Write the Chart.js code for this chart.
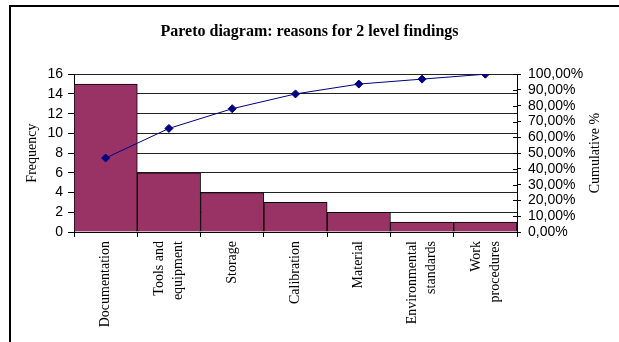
<!DOCTYPE html>
<html>
<head>
<meta charset="utf-8">
<script src="https://cdn.jsdelivr.net/npm/chart.js@4"></script>
<style>
  html, body { margin: 0; padding: 0; background: #ffffff; }
  canvas { display: block; }
</style>
</head>
<body>
<canvas id="pareto" width="619" height="342"></canvas>
<script>
// Reasons for level-2 findings, sorted by frequency
const categories = [
  'Documentation',
  ['Tools and', 'equipment'],
  'Storage',
  'Calibration',
  'Material',
  ['Environmental', 'standards'],
  ['Work', 'procedures']
];
const frequency = [15, 6, 4, 3, 2, 1, 1];
const cumulativePct = [46.88, 65.63, 78.13, 87.5, 93.75, 96.88, 100];

const SERIF = '"Liberation Serif", "Times New Roman", serif';
const SANS = '"Liberation Sans", Arial, sans-serif';

// Page frame, vertical category labels centred on their bars,
// right-hand axis title and ticks crossing the right axis line
const decorations = {
  id: 'decorations',
  beforeDraw(chart) {
    const ctx = chart.ctx;
    ctx.save();
    ctx.fillStyle = '#ffffff';
    ctx.fillRect(0, 0, chart.width, chart.height);
    ctx.strokeStyle = '#000000';
    ctx.lineWidth = 2;
    ctx.beginPath();
    ctx.moveTo(10, chart.height + 2);
    ctx.lineTo(10, 6);
    ctx.lineTo(chart.width + 2, 6);
    ctx.stroke();
    ctx.restore();
  },
  afterDraw(chart) {
    const ctx = chart.ctx;
    const xs = chart.scales.x;
    const y1 = chart.scales.y1;
    const area = chart.chartArea;
    ctx.save();
    ctx.strokeStyle = '#000000';
    ctx.lineWidth = 1;
    y1.ticks.forEach(t => {
      const py = Math.round(y1.getPixelForValue(t.value)) + 0.5;
      ctx.beginPath();
      ctx.moveTo(area.right - 4, py);
      ctx.lineTo(area.right, py);
      ctx.stroke();
    });

    ctx.fillStyle = '#000000';
    ctx.font = '14px ' + SERIF;
    ctx.textAlign = 'right';
    ctx.textBaseline = 'middle';
    const lineGap = 19;
    const labelTop = area.bottom + 9;
    chart.data.labels.forEach((lab, i) => {
      const lines = Array.isArray(lab) ? lab : [lab];
      const cx = xs.getPixelForValue(i);
      lines.forEach((txt, j) => {
        const lx = cx + (j - (lines.length - 1) / 2) * lineGap;
        ctx.save();
        ctx.translate(lx, labelTop);
        ctx.rotate(-Math.PI / 2);
        ctx.fillText(txt, 0, 0);
        ctx.restore();
      });
    });

    ctx.translate(595, (area.top + area.bottom) / 2);
    ctx.rotate(-Math.PI / 2);
    ctx.textAlign = 'center';
    ctx.fillText('Cumulative %', 0, 0);
    ctx.restore();
  }
};

new Chart(document.getElementById('pareto'), {
  type: 'bar',
  data: {
    labels: categories,
    datasets: [
      {
        type: 'line',
        label: 'Cumulative %',
        data: cumulativePct,
        yAxisID: 'y1',
        borderColor: '#000080',
        backgroundColor: '#000080',
        borderWidth: 1,
        pointStyle: 'rectRot',
        pointRadius: 4,
        pointBackgroundColor: '#000080',
        pointBorderColor: '#000080',
        tension: 0,
        order: 0
      },
      {
        type: 'bar',
        label: 'Frequency',
        data: frequency,
        yAxisID: 'y',
        backgroundColor: '#993366',
        borderColor: '#000000',
        borderWidth: 1,
        barPercentage: 1,
        categoryPercentage: 1,
        order: 1
      }
    ]
  },
  options: {
    responsive: false,
    animation: false,
    devicePixelRatio: 1,
    layout: { padding: 0 },
    plugins: {
      legend: { display: false },
      tooltip: { enabled: false },
      title: {
        display: true,
        text: 'Pareto diagram: reasons for 2 level findings',
        color: '#000000',
        font: { family: SERIF, size: 16, weight: 'bold', lineHeight: 1.2 },
        padding: { top: 22, bottom: 33 }
      }
    },
    scales: {
      x: {
        offset: true,
        grid: {
          offset: true,
          drawOnChartArea: false,
          drawTicks: true,
          tickLength: 5,
          color: '#000000'
        },
        border: { display: true, color: '#000000' },
        ticks: { display: false, autoSkip: false },
        afterFit(scale) { scale.height = 110; }
      },
      y: {
        position: 'left',
        min: 0,
        max: 16,
        ticks: {
          stepSize: 2,
          autoSkip: false,
          padding: 5,
          color: '#000000',
          font: { family: SANS, size: 14 }
        },
        grid: {
          color: '#222222',
          drawTicks: true,
          tickLength: 6,
          tickColor: '#000000'
        },
        border: { display: true, color: '#000000' },
        title: {
          display: true,
          text: 'Frequency',
          color: '#000000',
          font: { family: SERIF, size: 14, lineHeight: 1.2 },
          padding: { top: 24, bottom: 0 }
        },
        afterFit(scale) { scale.width = 74; }
      },
      y1: {
        position: 'right',
        min: 0,
        max: 100,
        ticks: {
          stepSize: 10,
          autoSkip: false,
          padding: 7,
          color: '#000000',
          font: { family: SANS, size: 14 },
          callback: v => v.toFixed(2).replace('.', ',') + '%'
        },
        grid: {
          drawOnChartArea: false,
          drawTicks: true,
          tickLength: 4,
          tickColor: '#000000'
        },
        border: { display: true, color: '#000000' },
        afterFit(scale) { scale.width = 102; }
      }
    }
  },
  plugins: [decorations]
});
</script>
</body>
</html>
